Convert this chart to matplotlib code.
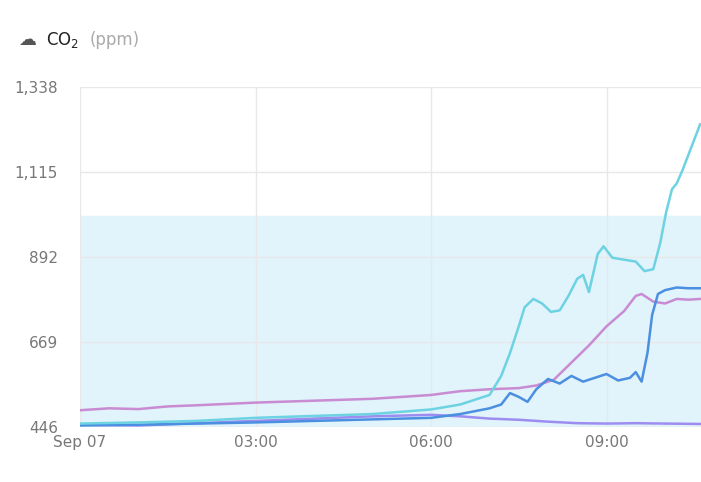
import numpy as np
import matplotlib.pyplot as plt

# hours since Sep 07 00:00
cyan_t = [0, 1, 2, 3, 4, 5, 6, 6.5, 7, 7.2, 7.35, 7.5, 7.6, 7.75, 7.9, 8.05, 8.2, 8.35, 8.5, 8.6, 8.7, 8.85, 8.95, 9.1, 9.3, 9.5, 9.65, 9.8, 9.92, 10.02, 10.12, 10.2, 10.3, 10.45, 10.6]
cyan_v = [455, 458, 462, 470, 475, 480, 492, 505, 530, 580, 640, 710, 760, 782, 770, 748, 752, 790, 835, 845, 800, 900, 920, 890, 885, 880, 855, 860, 930, 1010, 1070, 1085, 1120, 1180, 1240]
blue_t = [0, 1, 2, 3, 4, 5, 6, 6.5, 7, 7.2, 7.35, 7.5, 7.65, 7.8, 8.0, 8.2, 8.4, 8.6, 8.8, 9.0, 9.2, 9.4, 9.5, 9.6, 9.7, 9.78, 9.88, 10.0, 10.2, 10.4, 10.6]
blue_v = [450, 452, 455, 458, 462, 466, 470, 480, 495, 505, 535, 525, 512, 545, 572, 560, 580, 565, 575, 585, 568, 575, 590, 565, 640, 740, 795, 805, 812, 810, 810]
pink_t = [0, 0.5, 1, 1.5, 2, 3, 4, 5, 6, 6.5, 7, 7.5, 7.8, 8.1, 8.4, 8.7, 9.0, 9.3, 9.5, 9.6, 9.8, 10.0, 10.2, 10.4, 10.6]
pink_v = [490, 495, 493, 500, 503, 510, 515, 520, 530, 540, 545, 548, 555, 570, 615, 660, 710, 750, 790, 795, 775, 770, 782, 780, 782]
purple_t = [0, 1, 2, 3, 4, 5, 6, 6.5, 7, 7.5, 8, 8.5, 9, 9.5, 10, 10.6]
purple_v = [452, 450, 456, 462, 468, 474, 478, 474, 468, 465, 460, 456, 455, 456, 455, 454]

ticks = [446, 669, 892, 1115, 1338]
xticks = [0, 3, 6, 9]
xlabels = ["Sep 07", "03:00", "06:00", "09:00"]

fig = plt.figure(figsize=(7.01, 4.82), dpi=100)
ax = fig.add_axes([80 / 701, 1 - 427 / 482, 621 / 701, 340 / 482])
ax.axhspan(446, 1000, color="#e1f3fb", zorder=0)
ax.plot(purple_t, purple_v, color="#9d8df0", lw=1.8)
ax.plot(pink_t, pink_v, color="#c98bd2", lw=1.8)
ax.plot(blue_t, blue_v, color="#4a8fe0", lw=1.8)
ax.plot(cyan_t, cyan_v, color="#6dd2e2", lw=1.8)

ax.set_xlim(0, 621 / 58.5)
ax.set_ylim(446, 1338)
ax.set_yticks(ticks)
ax.set_yticklabels([f"{t:,}" for t in ticks])
ax.set_xticks(xticks)
ax.set_xticklabels(xlabels)
ax.grid(color="#e8e8e8", lw=1)
ax.set_axisbelow(True)
for s in ax.spines.values():
    s.set_visible(False)
ax.tick_params(length=0, colors="#777777", labelsize=11, pad=6)
ax.tick_params(axis="y", pad=16)

fig.text(18 / 701, 1 - 40 / 482, "☁", fontsize=13, color="#555555", va="center")
fig.text(46 / 701, 1 - 40 / 482, "CO$_2$", fontsize=12, color="#222222", va="center")
fig.text(90 / 701, 1 - 40 / 482, "(ppm)", fontsize=12, color="#aaaaaa", va="center")

fig.savefig("out.png", dpi=100)
